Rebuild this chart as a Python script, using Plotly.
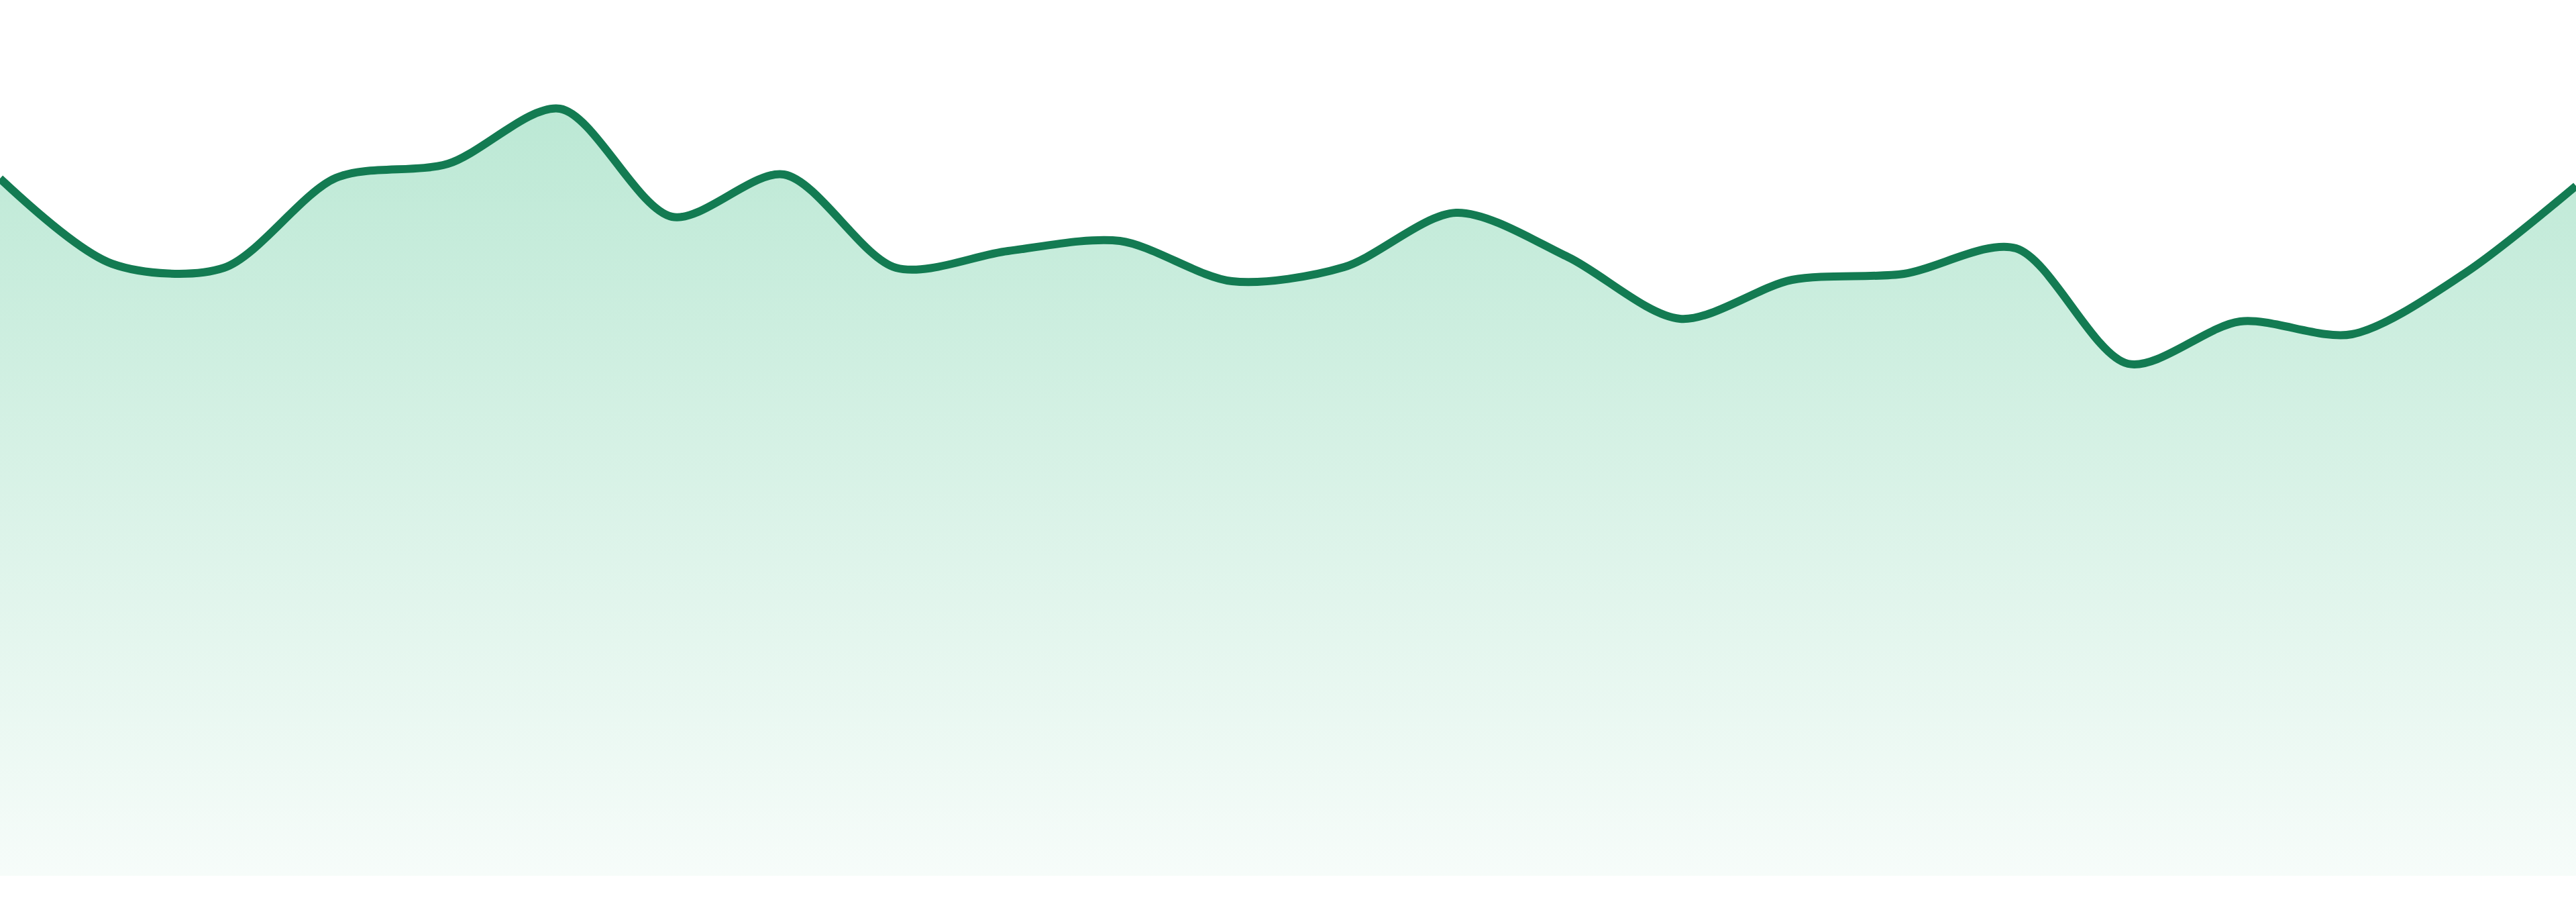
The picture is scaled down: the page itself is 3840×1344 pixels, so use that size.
import plotly.graph_objects as go

# one value per point, evenly spaced across the chart
points = list(range(24))
values = [103.9, 91.2, 90.6, 104.0, 106.1, 114.3, 98.2, 104.5,
          90.6, 93.1, 94.6, 88.6, 90.7, 98.8, 92.2, 83.0,
          88.8, 89.7, 93.5, 76.3, 82.6, 80.7, 89.7, 102.8]

line_color = '#137b52'
fill_top = 'rgba(38,182,118,0.31)'
fill_bottom = 'rgba(38,182,118,0.04)'

trace = go.Scatter(
    x=points,
    y=values,
    mode='lines',
    line=dict(color=line_color, width=12, shape='spline', smoothing=0.85),
    fill='tozeroy',
    fillgradient=dict(type='vertical',
                      colorscale=[[0, fill_bottom], [1, fill_top]]),
    hoverinfo='skip',
    showlegend=False,
)

fig = go.Figure(trace)

fig.update_layout(
    width=3840,
    height=1344,
    margin=dict(l=0, r=0, t=0, b=39),
    paper_bgcolor='white',
    plot_bgcolor='white',
    xaxis=dict(visible=False, range=[0, 23], fixedrange=True),
    yaxis=dict(visible=False, range=[0, 130.5], fixedrange=True),
)

# drop the browser's default page margin so the chart sits at the corner
fig.write_html("out.html", config={'displayModeBar': False},
               post_script="document.body.style.margin='0';")
